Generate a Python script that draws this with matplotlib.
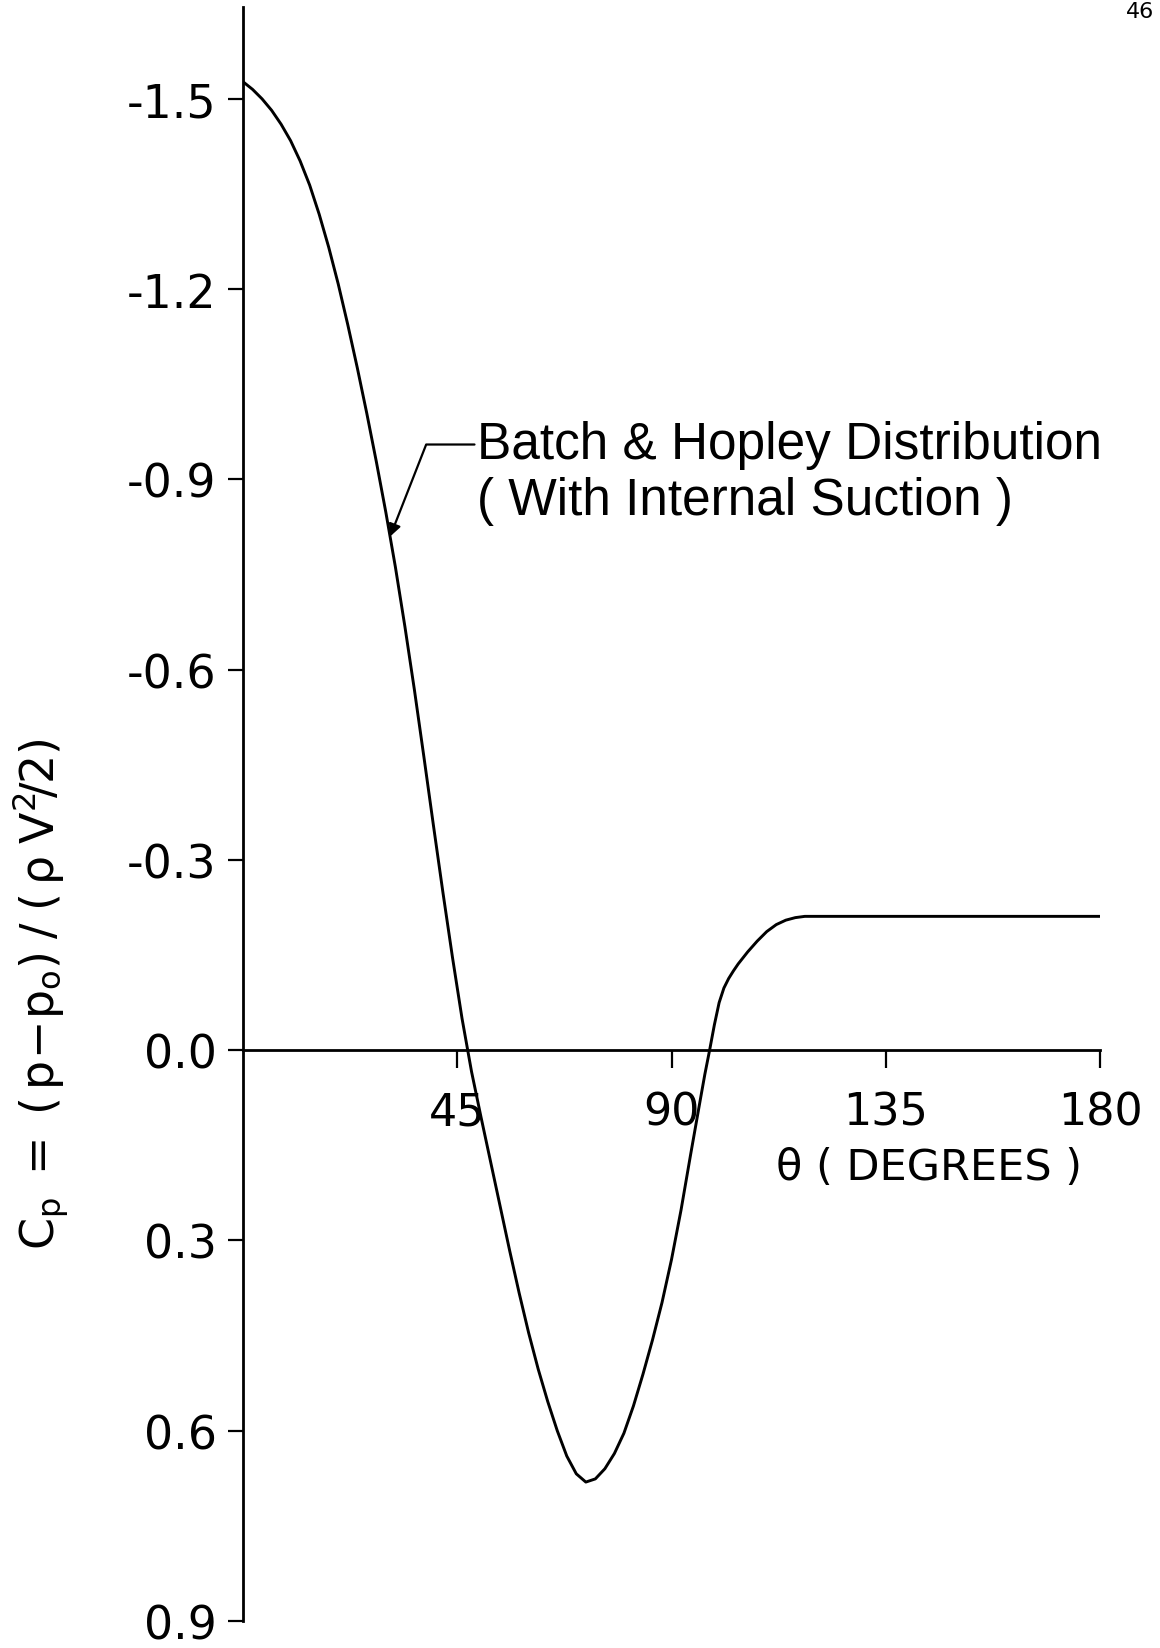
import numpy as np
import matplotlib.pyplot as plt

plt.rcParams['font.family'] = ['DejaVu Sans']
plt.rcParams['mathtext.fontset'] = 'dejavusans'
plt.rcParams['mathtext.default'] = 'regular'

# Batch & Hopley pressure distribution
theta = [0, 2, 4, 6, 8, 10, 12, 14, 16, 18, 20, 22, 24, 26, 28, 30, 32, 34, 36,
         38, 40, 42, 44, 46, 48, 50, 52, 54, 56, 58, 60, 62, 64, 66, 68, 70, 72,
         74, 76, 78, 80, 82, 84, 86, 88, 90, 92, 94, 96, 97, 98, 99, 100, 101,
         102, 103, 104, 106, 108, 110, 112, 114, 116, 118, 180]
cp = [-1.527, -1.515, -1.500, -1.482, -1.460, -1.434, -1.402, -1.364, -1.318,
      -1.266, -1.208, -1.144, -1.076, -1.004, -0.928, -0.848, -0.762, -0.668,
      -0.568, -0.462, -0.354, -0.248, -0.146, -0.050, 0.034, 0.106, 0.176, 0.246,
      0.316, 0.383, 0.446, 0.503, 0.554, 0.600, 0.640, 0.668, 0.681, 0.676, 0.660,
      0.636, 0.604, 0.561, 0.511, 0.457, 0.398, 0.330, 0.252, 0.165, 0.080, 0.038,
      0.0, -0.040, -0.075, -0.098, -0.113, -0.125, -0.136, -0.155, -0.172, -0.187,
      -0.198, -0.205, -0.209, -0.211, -0.211]

x_ticks = [45, 90, 135, 180]
x_labels = ['45', '90', '135', '180']
y_ticks = [-1.5, -1.2, -0.9, -0.6, -0.3, 0.0, 0.3, 0.6, 0.9]
y_labels = ['-1.5', '-1.2', '-0.9', '-0.6', '-0.3', '0.0', '0.3', '0.6', '0.9']

fig = plt.figure(figsize=(11.6, 16.49), dpi=100)
ax = fig.add_axes([0.2095, 0.0164, 0.7388, 0.9788])

ax.plot(theta, cp, color='black', lw=2.1, solid_joinstyle='round')

ax.set_xlim(0, 180)
ax.set_ylim(0.9, -1.645)

# only the left axis and a baseline at Cp = 0
ax.spines['top'].set_visible(False)
ax.spines['right'].set_visible(False)
ax.spines['bottom'].set_position(('data', 0))
ax.spines['left'].set_linewidth(2.0)
ax.spines['bottom'].set_linewidth(2.0)

ax.set_xticks(x_ticks)
ax.set_xticklabels(x_labels)
ax.set_yticks(y_ticks)
ax.set_yticklabels(y_labels)
ax.tick_params(axis='x', direction='out', length=13, width=1.6, pad=16, labelsize=32)
ax.tick_params(axis='y', direction='out', length=11, width=1.6, pad=8, labelsize=33)

ax.set_xlabel('θ ( DEGREES )', fontsize=31)
ax.xaxis.set_label_coords(0.80, 0.281)
ax.xaxis.label.set_va('center')

ax.set_ylabel(r'$C_p\;=\;(\,p\!-\!p_o)\;/\;(\,\rho\;V^2\!/2)$', fontsize=33)
ax.yaxis.set_label_coords(-0.236, 0.389)
ax.yaxis.label.set_va('center')

# curve label with elbow leader
ax.annotate('Batch & Hopley Distribution', xy=(30.9, -0.81), xytext=(49.2, -0.955),
            fontsize=37, family=['Liberation Sans', 'DejaVu Sans'], ha='left', va='center',
            arrowprops=dict(arrowstyle='-|>', color='black', lw=1.6, mutation_scale=18,
                            shrinkA=0, shrinkB=0, relpos=(0, 0.5),
                            connectionstyle='angle,angleA=180,angleB=68.6,rad=0'))
ax.text(49.2, -0.867, '( With Internal Suction )', fontsize=37,
        family=['Liberation Sans', 'DejaVu Sans'], ha='left', va='center')

fig.text(0.971, 0.9985, '46', fontsize=16, ha='left', va='top')

fig.savefig('out.png', dpi=100, facecolor='white')
